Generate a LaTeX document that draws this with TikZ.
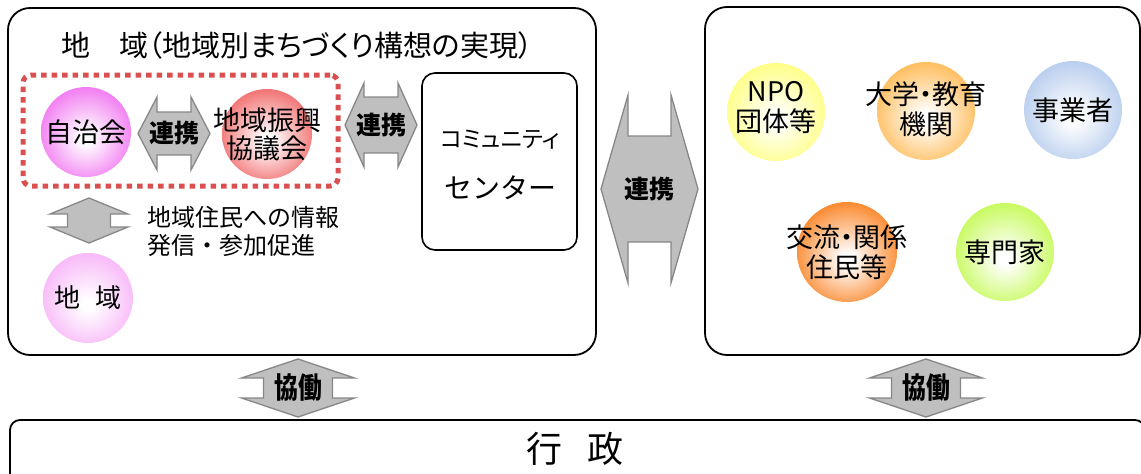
\documentclass[tikz,border=0pt]{standalone}
\usepackage{fontspec}
\setmainfont{Noto Sans CJK JP}
\newfontfamily\jpp[RawFeature=+palt]{Noto Sans CJK JP}
\usetikzlibrary{calc}
\definecolor{arrfill}{RGB}{191,191,191}
\definecolor{arrline}{RGB}{135,135,135}
\definecolor{dotred}{RGB}{218,80,80}
\definecolor{jichic}{RGB}{242,125,242}
\definecolor{shinkoc}{RGB}{242,115,115}
\definecolor{chiikic}{RGB}{248,185,248}
\definecolor{npoc}{RGB}{255,255,135}
\definecolor{daigakuc}{RGB}{255,190,95}
\definecolor{jigyoc}{RGB}{185,206,238}
\definecolor{koryuc}{RGB}{250,138,48}
\definecolor{senmonc}{RGB}{200,250,95}
\colorlet{ballc}{white}
\pgfdeclareradialshading[ballc]{ballsh}{\pgfpoint{0bp}{-4bp}}{color(0bp)=(white); color(3bp)=(white); color(27bp)=(ballc); color(50bp)=(ballc)}
\newcommand\HArr[8]{%
  \begin{scope}[shift={(#2,#3)}]
    \filldraw[blockarrow] (-#4,0) -- (-#4+#7,-#5) -- (-#4+#7,-#6) -- (#4-#7,-#6) -- (#4-#7,-#5) -- (#4,0)
      -- (#4-#7,#5) -- (#4-#7,#6) -- (-#4+#7,#6) -- (-#4+#7,#5) -- cycle;
    \node[arrlabel] (#1) at (0,0) {#8};
  \end{scope}}
\newcommand\VArr[8]{%
  \begin{scope}[shift={(#2,#3)}]
    \filldraw[blockarrow] (0,-#4) -- (-#5,-#4+#7) -- (-#6,-#4+#7) -- (-#6,#4-#7) -- (-#5,#4-#7) -- (0,#4)
      -- (#5,#4-#7) -- (#6,#4-#7) -- (#6,-#4+#7) -- (#5,-#4+#7) -- cycle;
    \node[arrlabel] (#1) at (0,0) {#8};
  \end{scope}}
\begin{document}
\begin{tikzpicture}[x=1pt,y=-1pt,
  bigbox/.style={draw, line width=1.8pt, rounded corners=22pt, inner sep=0pt},
  dotbox/.style={draw=dotred, line width=5pt, dash pattern=on 5.5pt off 5pt, rounded corners=8pt, inner sep=0pt},
  blockarrow/.style={fill=arrfill, draw=arrline, line width=1.3pt, line join=miter},
  arrlabel/.style={font=\bfseries\fontsize{25}{28}\selectfont, inner sep=0pt},
  ball/.style={circle, inner sep=0pt, shading=ballsh, /utils/exec={\colorlet{ballc}{#1}}},
  ctext/.style={font=\fontsize{27}{30}\selectfont, align=center, inner sep=0pt},
  ptext/.style={font=\jpp\fontsize{27}{30}\selectfont, align=center, inner sep=0pt}]
\useasboundingbox (0,0) rectangle (1141,474);
% boxes
\node[bigbox, minimum width=588pt, minimum height=347pt] (leftbox) at (302,181.5) {};
\node[bigbox, minimum width=435pt, minimum height=348pt] (rightbox) at (922.5,181) {};
\node[bigbox, rounded corners=10pt, minimum width=1135pt, minimum height=90pt] (gyosei) at (577.5,465) {};
\node[font=\fontsize{36}{40}\selectfont, inner sep=0pt] (gyoseitext) at (575,449) {行\hspace{0.7em}政};
% title
\node[font=\jpp\fontsize{29}{32}\selectfont, inner sep=0pt] (title) at (297,45) {地　域（地域別まちづくり構想の実現）};
% dotted group
\node[dotbox, minimum width=315pt, minimum height=111pt] (group) at (180.5,130.5) {};
% left circles
\node[ball=jichic, minimum size=90pt] (jichi) at (86,132) {};
\node[ctext] at (jichi) {自治会};
\node[ball=shinkoc, minimum size=90pt] (shinko) at (267,134) {};
\node[ctext, font=\fontsize{27}{28}\selectfont] at (shinko) {地域振興\\協議会};
\node[ball=chiikic, minimum size=90pt] (chiiki) at (88,298) {};
\node[ctext, font=\fontsize{26}{28}\selectfont] at (chiiki) {地\hspace{0.6em}域};
% community center
\node[draw, line width=1.6pt, rounded corners=13pt, minimum width=155pt, minimum height=177pt, inner sep=0pt] (ccenter) at (499.5,161.5) {};
\node[font=\jpp\fontsize{23}{26}\selectfont, inner sep=0pt] (cc1) at (500,140) {コミュニティ};
\node[font=\fontsize{28}{30}\selectfont, inner sep=0pt] (cc2) at (500,188) {センター};
% info text
\node[anchor=west, align=left, font=\fontsize{24}{28}\selectfont, inner sep=0pt] (info) at (147,231) {地域住民への情報\\発信・参加促進};
% right circles
\node[ball=npoc, minimum size=98pt] (npo) at (776,112) {};
\node[ctext] at ($(npo)+(0,-4)$) {NPO\\団体等};
\node[ball=daigakuc, minimum size=98pt] (daigaku) at (926,111) {};
\node[ptext] at ($(daigaku)+(0,-2)$) {大学・教育\\機関};
\node[ball=jigyoc, minimum size=98pt] (jigyo) at (1073,110) {};
\node[ctext] at (jigyo) {事業者};
\node[ball=koryuc, minimum size=100pt] (koryu) at (847,252) {};
\node[ptext] at (koryu) {交流・関係\\住民等};
\node[ball=senmonc, minimum size=98pt] (senmon) at (1005,252) {};
\node[ctext] at (senmon) {専門家};
% arrows
\HArr{a1}{174}{133.5}{36}{36.5}{21.5}{19}{連携}
\HArr{a2}{381}{125}{36}{42}{28}{19}{連携}
\HArr{a3}{649.5}{189}{48.5}{94}{53}{27}{連携}
\VArr{v1}{89}{220.5}{22.5}{39}{21.5}{16}{}
\VArr{k1}{298}{388}{29}{56.5}{34.5}{19}{\fontsize{29}{30}\selectfont\scalebox{0.82}[1]{協働}}
\VArr{k2}{926}{388}{29}{56.5}{34.5}{19}{\fontsize{29}{30}\selectfont\scalebox{0.82}[1]{協働}}
\end{tikzpicture}
\end{document}
